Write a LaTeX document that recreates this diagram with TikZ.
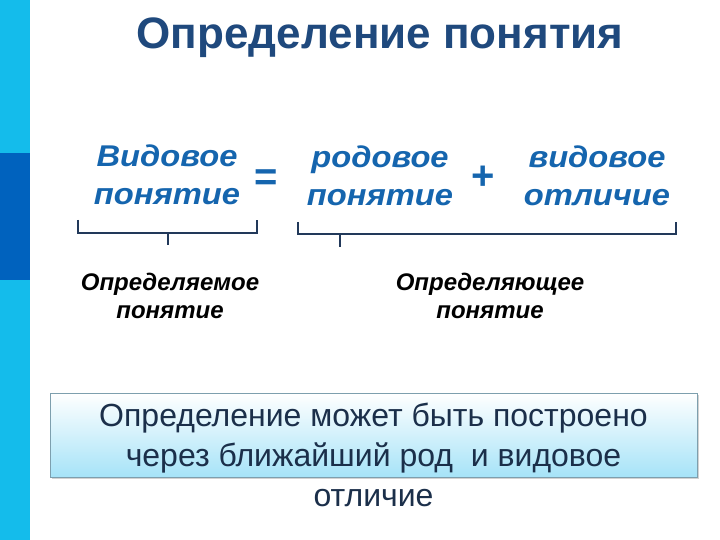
\documentclass[tikz,border=0pt]{standalone}
\usepackage{fontspec}
\setmainfont{Liberation Sans}
\newfontfamily\wordfont[FakeStretch=1.09]{Liberation Sans}
\usetikzlibrary{shadows}
\definecolor{titleblue}{HTML}{1F497D}
\definecolor{wordblue}{HTML}{1565AE}
\definecolor{stripe}{HTML}{14BCEB}
\definecolor{stripedark}{HTML}{0062BE}
\definecolor{bracket}{HTML}{22395A}
\definecolor{boxtext}{HTML}{1B2F4A}
\definecolor{boxbot}{HTML}{A6E3F8}
\tikzset{
  word/.style={text=wordblue, font=\wordfont\fontsize{30}{38}\selectfont\bfseries\itshape, align=center, inner sep=0pt},
  op/.style={text=wordblue, font=\fontsize{40}{40}\selectfont\bfseries, inner sep=0pt},
  label/.style={text=black, font=\fontsize{24}{28}\selectfont\bfseries\itshape, align=center, inner sep=0pt},
  brack/.style={draw=bracket, line width=2pt},
}
\begin{document}
\begin{tikzpicture}[x=1pt,y=-1pt]
\useasboundingbox (0,0) rectangle (720,540);
\fill[white] (0,0) rectangle (720,540);
% left stripe
\fill[stripe] (0,0) rectangle (30,540);
\fill[stripedark] (0,153) rectangle (30,280);
% title
\node[text=titleblue, font=\fontsize{44}{48}\selectfont\bfseries, inner sep=0pt] (title) at (380,38) {Определение понятия};
% formula
\node[word] (vp) at (167,175) {Видовое\\понятие};
\node[op] (eq) at (266,180) {=};
\node[word] (rp) at (380,176) {родовое\\понятие};
\node[op] (plus) at (483,178) {+};
\node[word] (vo) at (597,176) {видовое\\отличие};
% brackets
\coordinate (b1a) at (78,220);
\coordinate (b1b) at (257,220);
\coordinate (t1) at (168,233);
\coordinate (b2a) at (298,222);
\coordinate (b2b) at (676,222);
\coordinate (t2) at (340,234);
\draw[brack] (b1a) |- (t1) -| (b1b);
\draw[brack] (t1) -- ++(0,12);
\draw[brack] (b2a) |- (t2) -| (b2b);
\draw[brack] (t2) -- ++(0,13);
% labels
\node[label] (l1) at (170,296) {Определяемое\\понятие};
\node[label] (l2) at (490,296) {Определяющее\\понятие};
% box
\node[draw=gray!70!cyan, line width=0.8pt, top color=white, bottom color=boxbot,
      minimum width=647pt, minimum height=84pt, inner sep=0pt,
      drop shadow={shadow xshift=1.5pt, shadow yshift=-2pt, opacity=0.35}] (box) at (373.5,435) {};
\node[text=boxtext, font=\fontsize{32}{40}\selectfont, align=center, inner sep=0pt, anchor=north] (btext) at (373.5,403)
  {Определение может быть построено\\через ближайший род\ \ и видовое\\отличие};
\end{tikzpicture}
\end{document}
